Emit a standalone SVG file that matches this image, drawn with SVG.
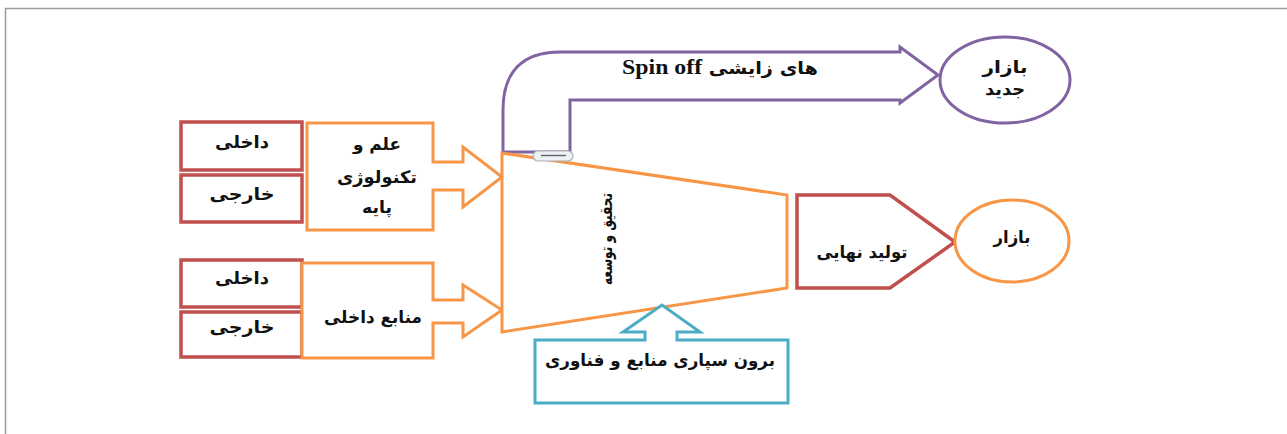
<svg xmlns="http://www.w3.org/2000/svg" width="1287" height="434" viewBox="0 0 1287 434">
  <style>
    .fa { font-family: "DejaVu Sans", sans-serif; font-size: 17px; font-weight: bold; fill: #111; text-anchor: middle; }
    .lat { font-family: "Liberation Serif", serif; font-weight: bold; font-size: 21px; }
    .red { fill: #fff; stroke: #C0504D; stroke-width: 3.5; }
    .org { fill: #fff; stroke: #F79646; stroke-width: 3; }
    .pur { fill: #fff; stroke: #8064A2; stroke-width: 3; }
    .blu { fill: #fff; stroke: #4BACC6; stroke-width: 3; }
  </style>
  <rect width="1287" height="434" fill="#fff"/>
  <path d="M5.5,434 V8.5 H1287" fill="none" stroke="#9a9a9a" stroke-width="1.5"/>

  <g id="connectors">
    <g id="spinoff-arrow">
      <path class="pur" d="M503,152 V110 C503,72 522,52 560,52 H900 V47 L938,75 L900,103 V100 H570 V152 Z"/>
      <text class="fa" x="720" y="74" font-weight="normal" textLength="196" lengthAdjust="spacingAndGlyphs"><tspan class="lat">Spin off</tspan> های زایشی</text>
    </g>
  </g>

  <g id="node-dakheli-1">
    <rect class="red" x="181" y="122" width="121" height="48"/>
    <text class="fa" x="242" y="148" textLength="54" lengthAdjust="spacingAndGlyphs">داخلی</text>
  </g>
  <g id="node-khareji-1">
    <rect class="red" x="181" y="175" width="121" height="47"/>
    <text class="fa" x="242" y="200" textLength="65" lengthAdjust="spacingAndGlyphs">خارجی</text>
  </g>
  <g id="node-elm">
    <path class="org" d="M307,123 H433 V162 H463 V147 L502,177 L463,207 V190 H433 V230 H307 Z"/>
    <text class="fa" x="377" y="150" textLength="48" lengthAdjust="spacingAndGlyphs">علم و</text>
    <text class="fa" x="377" y="183" textLength="80" lengthAdjust="spacingAndGlyphs">تکنولوژی</text>
    <text class="fa" x="377" y="213" textLength="30" lengthAdjust="spacingAndGlyphs">پایه</text>
  </g>
  <g id="node-dakheli-2">
    <rect class="red" x="181" y="260" width="121" height="47"/>
    <text class="fa" x="242" y="284" textLength="54" lengthAdjust="spacingAndGlyphs">داخلی</text>
  </g>
  <g id="node-khareji-2">
    <rect class="red" x="181" y="312" width="121" height="45"/>
    <text class="fa" x="242" y="333" textLength="65" lengthAdjust="spacingAndGlyphs">خارجی</text>
  </g>
  <g id="node-manabe">
    <path class="org" d="M302,263 H433 V300 H463 V285 L502,310 L463,337 V323 H433 V358 H302 Z"/>
    <text class="fa" x="373" y="323" textLength="98" lengthAdjust="spacingAndGlyphs">منابع داخلی</text>
  </g>
  <g id="node-rnd">
    <path class="org" d="M502,153 L787,195 V288 L502,332 Z"/>
    <text class="fa" font-size="14" transform="translate(607,239) rotate(-90)" y="5" textLength="92" lengthAdjust="spacingAndGlyphs">تحقیق و توسعه</text>
  </g>
  <g id="handle">
    <rect x="533" y="151" width="40" height="10" rx="5" fill="#eef1f4" stroke="#a9b0b8" stroke-width="1.2"/>
    <line x1="541" y1="155.5" x2="566" y2="155.5" stroke="#5a6470" stroke-width="1.4"/>
  </g>
  <g id="node-tolid">
    <path class="red" d="M797,195 H890 L955,242 L890,288 H797 Z"/>
    <text class="fa" x="862" y="258" textLength="91" lengthAdjust="spacingAndGlyphs">تولید نهایی</text>
  </g>
  <g id="node-bazar">
    <ellipse class="org" cx="1012" cy="241" rx="57" ry="41"/>
    <text class="fa" x="1012" y="243" textLength="37" lengthAdjust="spacingAndGlyphs">بازار</text>
  </g>
  <g id="node-bazar-jadid">
    <ellipse class="pur" cx="1005" cy="80" rx="65" ry="43"/>
    <text class="fa" x="1005" y="73" font-weight="normal" textLength="45" lengthAdjust="spacingAndGlyphs">بازار</text>
    <text class="fa" x="1005" y="95" font-weight="normal" textLength="40" lengthAdjust="spacingAndGlyphs">جدید</text>
  </g>
  <g id="node-outsourcing">
    <path class="blu" d="M535,340 H645 V332 H623 L662,305 L700,332 H677 V340 H788 V403 H535 Z"/>
    <text class="fa" x="660" y="366" textLength="230" lengthAdjust="spacingAndGlyphs">برون سپاری منابع و فناوری</text>
  </g>
</svg>
